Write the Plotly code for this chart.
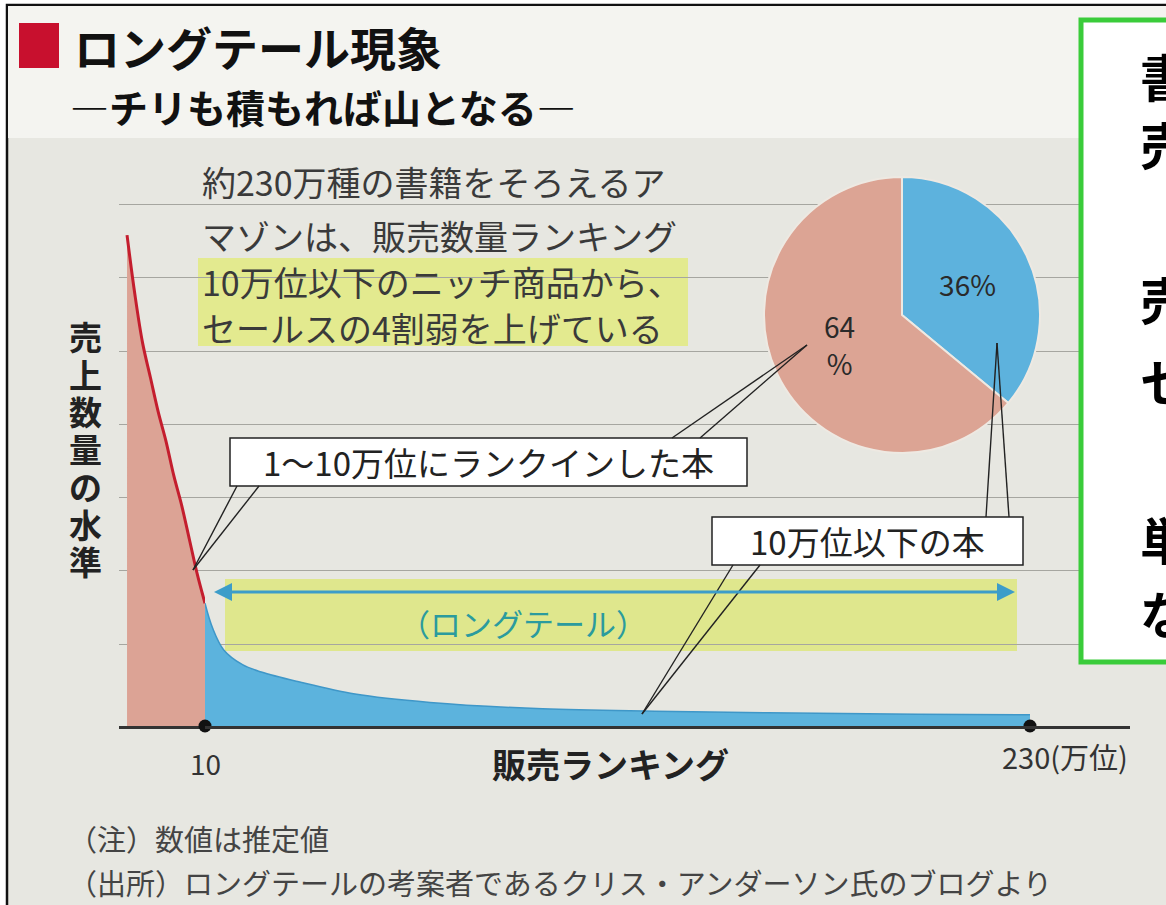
import plotly.graph_objects as go

W, H = 1166, 905
FONT = "Noto Sans CJK JP"

# ---------------- data ----------------
head_rank = [0, 1, 2, 3, 4, 5, 6, 7, 8, 9, 10]            # 販売ランキング (万位)
head_sales = [100, 88, 78, 71, 64, 58, 51, 45, 38, 31, 25]  # 売上数量の水準 (index)
tail_rank = [10, 12, 15, 20, 25, 35, 50, 70, 100, 130, 160, 200, 230]
tail_sales = [25, 20, 15.5, 12.5, 11, 9, 6.5, 4.8, 3.5, 3.0, 2.7, 2.4, 2.3]
end_ranks = [10, 230]
grid_levels = [16.7, 31.6, 46.6, 61.5, 76.4, 91.4, 106.3]
share_labels = ["10万位以下の本", "1～10万位にランクインした本"]
share_values = [36, 64]
share_text = ["36%", "64<br>%"]
x_tick_labels = ["10", "230(万位)"]
desc_lines = ["約230万種の書籍をそろえるア",
              "マゾンは、販売数量ランキング",
              "10万位以下のニッチ商品から、",
              "セールスの4割弱を上げている"]
y_title = "売上数量の水準"
notes = ["（注）数値は推定値",
         "（出所）ロングテールの考案者であるクリス・アンダーソン氏のブログより"]
side_chars = ["書", "売", "売", "セ", "単", "な"]


def X(px):
    return px / W


def Y(py):
    return 1 - py / H


fig = go.Figure()

fig.add_trace(go.Scatter(
    x=head_rank, y=head_sales, xaxis="x", yaxis="y", mode="lines",
    line=dict(color="#c41e2e", width=3, shape="spline"),
    fill="tozeroy", fillcolor="#dca395", hoverinfo="skip", showlegend=False))
fig.add_trace(go.Scatter(
    x=tail_rank, y=tail_sales, xaxis="x2", yaxis="y", mode="lines",
    line=dict(color="#3f97c8", width=1.5, shape="spline"),
    fill="tozeroy", fillcolor="#5cb3dd", hoverinfo="skip", showlegend=False))
fig.add_trace(go.Scatter(
    x=end_ranks, y=[0, 0], xaxis="x2", yaxis="y", mode="markers",
    marker=dict(color="#111111", size=13), cliponaxis=False,
    hoverinfo="skip", showlegend=False))
fig.add_trace(go.Pie(
    labels=share_labels, values=share_values, text=share_text,
    textinfo="text", sort=False, direction="clockwise", rotation=0,
    marker=dict(colors=["#5db2dd", "#dca494"], line=dict(color="#eee9e2", width=2)),
    domain=dict(x=[X(764), X(1040)], y=[Y(453), Y(177)]),
    textfont=dict(size=28, color="#2a2a2a", family=FONT),
    insidetextorientation="horizontal", textposition="inside",
    showlegend=False, hoverinfo="skip"))

axis_common = dict(showgrid=False, zeroline=False, showticklabels=False, ticks="",
                   showline=True, linecolor="#333333", linewidth=2.5,
                   anchor="y", fixedrange=True)

fig.update_layout(
    width=W, height=H, margin=dict(l=0, r=0, t=0, b=0),
    paper_bgcolor="#ffffff", plot_bgcolor="rgba(0,0,0,0)", showlegend=False,
    xaxis=dict(domain=[X(119), X(205)], range=[-1.03, 10], **axis_common),
    xaxis2=dict(domain=[X(205), X(1130)], range=[10, 256.67], **axis_common),
    yaxis=dict(domain=[Y(726), Y(137)], range=[0, 120], showgrid=True,
               gridcolor="#a6a6a0", gridwidth=1.2, tickmode="array",
               tickvals=grid_levels, showticklabels=False, zeroline=False,
               showline=False, ticks="", fixedrange=True),
)


def rect(x0, y0, x1, y1, fill, line_color=None, lw=0, layer="below"):
    return dict(type="rect", xref="paper", yref="paper",
                x0=X(x0), x1=X(x1), y0=Y(y0), y1=Y(y1),
                fillcolor=fill, layer=layer,
                line=dict(color=line_color or fill, width=lw))


def seg(x0, y0, x1, y1, color="#222222", lw=1.4):
    return dict(type="line", xref="paper", yref="paper",
                x0=X(x0), x1=X(x1), y0=Y(y0), y1=Y(y1),
                layer="above", line=dict(color=color, width=lw))


shapes = [
    rect(7, 5, W + 10, H + 10, "#e7e7e1", "#111111", 2.5),
    rect(8, 6, W + 10, 138, "#f4f4f0"),
    rect(19, 23, 59, 68, "#c8102e"),
    rect(198, 258, 688, 346, "#e3ea8f"),
    rect(225, 579, 1017, 651, "#dfe78d"),
    # callout boxes
    rect(230, 438, 747, 486, "#ffffff", "#222222", 1.5, "above"),
    rect(712, 517, 1023, 565, "#ffffff", "#222222", 1.5, "above"),
    seg(237, 486, 193, 570), seg(259, 486, 193, 570),
    seg(672, 438, 807, 345), seg(700, 438, 807, 345),
    seg(733, 565, 642, 714), seg(760, 565, 642, 714),
    seg(986, 517, 997, 343), seg(1009, 517, 997, 343),
    # right green box
    rect(1081, 20, W + 20, 662, "#ffffff", "#3acc3a", 5, "above"),
]

ann = []


def txt(s, x, y, size, color="#333333", bold=False, xanchor="left", yanchor="middle"):
    ann.append(dict(text=s, x=X(x), y=Y(y), xref="paper", yref="paper",
                    xanchor=xanchor, yanchor=yanchor, showarrow=False,
                    font=dict(family=FONT, size=size, color=color,
                              weight=700 if bold else 400)))


txt("ロングテール現象", 72, 46, 46, "#111111", True)
txt("―チリも積もれば山となる―", 68, 106, 39, "#111111", True)
for i, line in enumerate(desc_lines):
    txt(line, 200, [182, 235, 281, 327][i], 34, "#3a3a3a")
for i, ch in enumerate(y_title):
    txt(ch, 85, 336 + 37.5 * i, 33, "#222222", True, "center")
txt("（ロングテール）", 523, 622, 31, "#2b9b9e", False, "center")
txt(share_labels[1], 488, 462, 33, "#222222", False, "center")
txt(share_labels[0], 867, 541, 33, "#222222", False, "center")
ann.append(dict(text=x_tick_labels[0], x=end_ranks[0], y=0, xref="x2", yref="y",
                xanchor="center", yanchor="middle", yshift=-37, showarrow=False,
                font=dict(family=FONT, size=28, color="#333333")))
ann.append(dict(text=x_tick_labels[1], x=end_ranks[1], y=0, xref="x2", yref="y",
                xanchor="left", yanchor="middle", xshift=-30, yshift=-30, showarrow=False,
                font=dict(family=FONT, size=29, color="#333333")))
txt("販売ランキング", 610, 763, 34, "#222222", True, "center")
txt(notes[0], 66, 838, 29, "#444444")
txt(notes[1], 66, 882, 29, "#444444")
for ch, yy in zip(side_chars, [75, 143, 298, 380, 538, 612]):
    txt(ch, 1138, yy, 50, "#000000", True)

# long-tail double arrow
ann.append(dict(text="", x=226, y=27.3, ax=12, ay=27.3, xref="x2", yref="y",
                axref="x2", ayref="y", showarrow=True, arrowhead=2,
                arrowside="end+start", arrowsize=1.2, arrowwidth=3,
                arrowcolor="#3c9dc9"))

fig.update_layout(shapes=shapes, annotations=ann)
fig.write_html("out.html")
